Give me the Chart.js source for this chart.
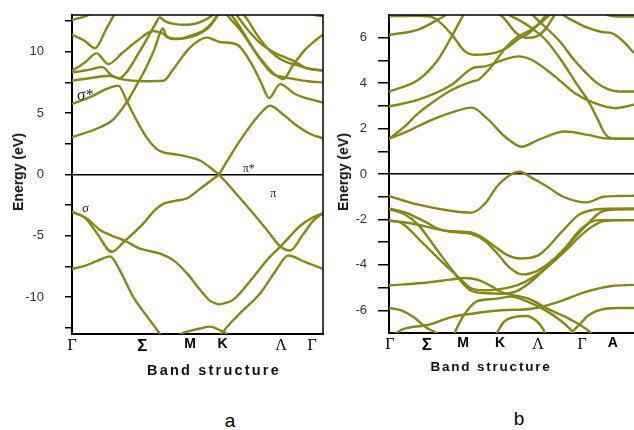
<!DOCTYPE html>
<html>
<head>
<meta charset="utf-8">
<script src="https://cdn.jsdelivr.net/npm/chart.js@4.4.1/dist/chart.umd.min.js"></script>
<style>
  body { margin: 0; background: #fff; width: 634px; height: 430px; overflow: hidden; position: relative;
         font-family: "Liberation Sans", Arial, sans-serif; }
  #chartA { position: absolute; left: 0; top: 0; }
  #chartB { position: absolute; left: 330px; top: 0; }
  .ytitle { position: absolute; font-weight: bold; font-size: 14px; color: #111; white-space: nowrap;
            transform: translate(-50%, -50%) rotate(-90deg); }
  .xtitle { position: absolute; font-weight: bold; color: #111; white-space: nowrap; transform: translate(-50%, -50%); }
  .panel { position: absolute; font-size: 19px; color: #000; transform: translate(-50%, -50%); }
</style>
</head>
<body>
<canvas id="chartA" width="330" height="380"></canvas>
<canvas id="chartB" width="304" height="380"></canvas>
<div class="ytitle" style="left:18px; top:172px;">Energy (eV)</div>
<div class="ytitle" style="left:343px; top:172px;">Energy (eV)</div>
<div class="xtitle" style="left:214px; top:370px; font-size:14.5px; letter-spacing:2.2px;">Band structure</div>
<div class="xtitle" style="left:491px; top:366px; font-size:13.5px; letter-spacing:1.8px;">Band structure</div>
<div class="panel" style="left:230px; top:421px;">a</div>
<div class="panel" style="left:519px; top:419px;">b</div>

<script>
// ---- panel a : k path 0..1, energy in eV ----
const xLabelsA = ['Γ', 'Σ', 'M', 'K', 'Λ', 'Γ'];
const xPosA = [0, 0.28, 0.47, 0.6, 0.833, 0.957];
const yTicksA = [-12.5, -10, -7.5, -5, -2.5, 0, 2.5, 5, 7.5, 10, 12.5];

// valence
const aV1 = [[0,-3.05],[0.05,-3.5],[0.1,-4.8],[0.158,-6.3],[0.211,-5.4],[0.284,-4.0],[0.33,-2.9],[0.364,-2.4],[0.41,-2.15],[0.457,-1.95],[0.51,-1.17],[0.586,0]];
const aV2 = [[0,-3.05],[0.06,-3.6],[0.11,-4.5],[0.16,-5.0],[0.211,-5.4],[0.271,-6.05],[0.351,-6.45],[0.404,-7.0],[0.46,-8.1],[0.51,-9.4],[0.55,-10.3],[0.586,-10.6]];
const aV3 = [[0.586,0],[0.643,-1.3],[0.723,-3.2],[0.78,-4.6],[0.829,-5.85],[0.869,-6.2],[0.92,-4.9],[0.96,-3.8],[1,-3.15]];
const aV4 = [[0.586,-10.6],[0.643,-10.2],[0.723,-8.35],[0.78,-6.9],[0.829,-5.9],[0.87,-5.0],[0.908,-4.2],[0.95,-3.6],[1,-3.15]];
const aV5 = [[0,-7.7],[0.05,-7.45],[0.1,-7.05],[0.152,-6.67],[0.19,-7.8],[0.244,-9.97],[0.3,-11.6],[0.351,-13.0],[0.38,-13.8]];
const aV6 = [[0.58,-13.6],[0.596,-13.0],[0.66,-11.5],[0.749,-9.7],[0.81,-7.9],[0.862,-6.6],[0.93,-7.15],[1,-7.7]];
const aV7 = [[0.4,-13.8],[0.43,-13.05],[0.47,-12.75],[0.51,-12.55],[0.55,-12.4],[0.59,-12.7],[0.616,-13.0],[0.63,-13.6]];
// conduction
const aC1 = [[0,5.75],[0.072,6.3],[0.138,6.97],[0.185,7.24],[0.218,6.0],[0.244,4.93],[0.297,3.03],[0.337,2.09],[0.364,1.81],[0.41,1.65],[0.457,1.46],[0.51,1.14],[0.586,0]];
const aC2 = [[0.586,0],[0.669,2.76],[0.749,4.93],[0.789,5.6],[0.841,4.9],[0.888,4.1],[0.95,3.3],[1,2.95]];
const aC3 = [[0,3.03],[0.112,3.85],[0.165,4.5],[0.218,5.9],[0.258,7.3],[0.3,8.9],[0.33,10.3],[0.35,11.5],[0.362,11.9],[0.378,11.2],[0.42,11.05],[0.47,11.3],[0.52,11.7],[0.56,12.4],[0.59,13.4]];
const aC4 = [[0,12.6],[0.06,12.95],[0.1,13.4]];
const aC5 = [[0,11.4],[0.05,10.9],[0.092,10.3],[0.135,11.8],[0.178,13.4]];
const aC6 = [[0,8.45],[0.05,9.1],[0.098,9.87],[0.145,9.0],[0.2,9.9],[0.26,10.9],[0.324,11.7],[0.36,11.5],[0.4,11.05],[0.45,11.1],[0.5,11.4],[0.545,12.0],[0.575,12.8],[0.595,13.4]];
const aC7 = [[0,8.3],[0.07,8.55],[0.12,8.75],[0.16,8.05],[0.19,7.85],[0.22,8.4],[0.26,9.7],[0.3,11.1],[0.33,12.2],[0.35,12.8],[0.37,12.5],[0.4,12.3],[0.46,12.2],[0.52,12.5],[0.56,13.0],[0.58,13.4]];
const aC8 = [[0,7.65],[0.07,7.85],[0.151,8.05],[0.19,7.8],[0.284,7.6],[0.364,7.64],[0.404,8.6],[0.47,10.35],[0.537,11.16],[0.59,10.8],[0.656,10.6],[0.716,9.0],[0.756,7.37],[0.785,6.23],[0.829,7.37],[0.888,6.56],[1,5.85]];
const aC9 = [[0.64,13.4],[0.663,12.8],[0.7,11.8],[0.756,10.6],[0.8,10.0],[0.849,9.54],[0.882,9.27],[0.928,8.72],[1,8.45]];
const aC10 = [[0.67,13.4],[0.7,12.6],[0.73,11.6],[0.77,10.5],[0.81,9.7],[0.85,9.2],[0.9,8.9],[0.95,8.6],[1,8.5]];
const aC11 = [[0.6,13.4],[0.63,12.7],[0.67,11.8],[0.716,10.4],[0.76,9.2],[0.8,8.3],[0.842,7.78],[0.88,8.9],[0.93,10.2],[0.968,10.9],[1,11.4]];
const aC12 = [[0.62,13.4],[0.66,12.3],[0.7,11.0],[0.75,9.4],[0.8,8.2],[0.84,7.95],[0.88,7.8],[0.94,7.6],[1,7.5]];
const aC13 = [[0.93,13.4],[0.97,13.0],[1,12.9]];

// ---- panel b : k path 0..1 (visible part), energy in eV ----
const xLabelsB = ['Γ', 'Σ', 'M', 'K', 'Λ', 'Γ', 'A'];
const xPosB = [0.004, 0.155, 0.302, 0.453, 0.608, 0.788, 0.914];
const yTicksB = [-6, -5, -4, -3, -2, -1, 0, 1, 2, 3, 4, 5, 6];

const bV1 = [[0,-0.97],[0.12,-1.35],[0.256,-1.63],[0.338,-1.7],[0.392,-1.3],[0.44,-0.56],[0.494,-0.04],[0.535,0.1],[0.58,-0.15],[0.63,-0.45],[0.68,-0.8],[0.711,-1.0],[0.76,-1.18],[0.807,-1.25],[0.875,-1.0],[0.93,-0.97],[1,-0.96]];
const bV2 = [[0,-1.52],[0.065,-1.69],[0.147,-2.1],[0.215,-2.47],[0.338,-2.58],[0.378,-2.77],[0.433,-3.2],[0.48,-3.55],[0.535,-3.72],[0.609,-3.58],[0.705,-2.55],[0.773,-1.81],[0.828,-1.59],[0.9,-1.53],[1,-1.52]];
const bV3 = [[0,-2.05],[0.093,-2.18],[0.188,-2.4],[0.256,-2.55],[0.338,-2.65],[0.392,-2.95],[0.45,-3.6],[0.49,-4.1],[0.542,-4.42],[0.609,-4.24],[0.705,-3.43],[0.786,-2.4],[0.854,-2.03],[0.92,-2.03],[1,-2.03]];
const bV4 = [[0,-1.55],[0.06,-1.75],[0.12,-2.25],[0.2,-3.4],[0.256,-4.2],[0.3,-4.8],[0.338,-5.15],[0.4,-5.25],[0.46,-5.27],[0.528,-5.12],[0.6,-4.55],[0.7,-3.5],[0.8,-2.32],[0.868,-1.66],[0.93,-1.56],[1,-1.55]];
const bV5 = [[0,-2.05],[0.05,-2.15],[0.133,-2.99],[0.2,-3.7],[0.276,-4.46],[0.338,-5.05],[0.392,-5.12],[0.5,-4.97],[0.555,-4.75],[0.637,-4.17],[0.718,-3.4],[0.8,-2.55],[0.868,-2.1],[0.93,-2.04],[1,-2.03]];
const bV6 = [[0,-4.9],[0.136,-4.8],[0.25,-4.65],[0.31,-4.58],[0.36,-4.65],[0.42,-4.95],[0.46,-5.2],[0.569,-5.49],[0.65,-5.95],[0.74,-6.4],[0.82,-6.95],[0.86,-7.4]];
const bV7 = [[0.25,-7.4],[0.268,-7.0],[0.29,-6.5],[0.32,-6.0],[0.36,-5.6],[0.43,-5.5],[0.5,-5.4],[0.56,-5.6],[0.63,-5.95],[0.7,-6.45],[0.75,-6.95],[0.78,-7.4]];
const bV8 = [[0,-5.9],[0.05,-6.0],[0.1,-6.3],[0.15,-6.75],[0.2,-7.05],[0.22,-7.3]];
const bV9 = [[0.72,-7.4],[0.745,-7.0],[0.78,-6.6],[0.813,-6.23],[0.882,-5.93],[0.94,-5.9],[1,-5.9]];
const bV10 = [[0.01,-7.4],[0.025,-7.03],[0.147,-6.67],[0.256,-6.3],[0.338,-6.15],[0.46,-6.0],[0.582,-5.93],[0.69,-5.64],[0.8,-5.2],[0.909,-4.93],[1,-4.88]];
const bV11 = [[0.42,-7.3],[0.44,-7.0],[0.47,-6.5],[0.51,-6.3],[0.56,-6.25],[0.6,-6.45],[0.63,-6.85],[0.645,-7.3]];

const bC1 = [[0,1.55],[0.08,1.9],[0.167,2.35],[0.26,2.72],[0.338,2.92],[0.4,2.45],[0.473,1.65],[0.542,1.2],[0.609,1.5],[0.718,1.87],[0.813,1.72],[0.882,1.57],[1,1.55]];
const bC2 = [[0,1.55],[0.06,2.05],[0.12,2.68],[0.19,3.25],[0.256,3.7],[0.338,4.07],[0.365,4.15],[0.419,4.74],[0.48,5.6],[0.528,6.06],[0.582,6.36],[0.65,6.95],[0.67,7.2]];
const bC3 = [[0,2.97],[0.12,3.27],[0.256,3.93],[0.344,4.67],[0.392,4.74],[0.473,5.05],[0.528,5.18],[0.582,5.03],[0.677,4.3],[0.759,3.56],[0.84,3.12],[0.922,2.9],[1,3.05]];
const bC4 = [[0,3.63],[0.12,4.15],[0.2,5.03],[0.256,6.06],[0.297,6.87],[0.315,7.2]];
const bC5 = [[0,6.12],[0.12,6.36],[0.2,6.8],[0.23,7.0],[0.245,7.2]];
const bC6 = [[0,6.95],[0.1,6.97],[0.17,6.93],[0.2,6.75],[0.256,6.14],[0.31,5.4],[0.351,5.25],[0.433,5.33],[0.48,5.55],[0.53,5.95],[0.57,6.2],[0.61,6.6],[0.64,7.0],[0.65,7.2]];
const bC7 = [[0.46,7.2],[0.49,7.0],[0.54,6.72],[0.59,6.36],[0.64,5.9],[0.71,4.9],[0.77,3.9],[0.81,3.27],[0.85,2.45],[0.88,1.8],[0.91,1.57],[1,1.55]];
const bC8 = [[0.57,7.2],[0.6,6.85],[0.65,6.35],[0.7,5.8],[0.75,5.1],[0.8,4.5],[0.85,4.0],[0.89,3.75],[0.94,3.63],[1,3.63]];
const bC9 = [[0.69,7.2],[0.711,7.0],[0.76,6.7],[0.813,6.43],[0.87,6.25],[0.909,6.2],[0.95,5.9],[1,5.33]];
const bC10 = [[0.86,7.2],[0.9,6.97],[0.95,6.93],[1,6.93]];
const bC11 = [[0.43,7.2],[0.47,6.85],[0.52,6.2],[0.56,6.0],[0.6,6.05],[0.64,6.4],[0.67,6.9],[0.69,7.2]];

const bandsA = [aV1, aV2, aV3, aV4, aV5, aV6, aV7, aC1, aC2, aC3, aC4, aC5, aC6, aC7, aC8, aC9, aC10, aC11, aC12, aC13];
const bandsB = [bV1, bV2, bV3, bV4, bV5, bV6, bV7, bV8, bV9, bV10, bV11, bC1, bC2, bC3, bC4, bC5, bC6, bC7, bC8, bC9, bC10, bC11];

const bandColor = '#878717';

// frame (top / right edges) and the sigma / pi notes
const framePlugin = {
  id: 'frame',
  afterDatasetsDraw(chart, args, opts) {
    const { ctx, chartArea: a, scales } = chart;
    ctx.save();
    ctx.strokeStyle = '#000';
    ctx.lineWidth = 1.5;
    ctx.beginPath();
    ctx.moveTo(a.left, a.top);
    ctx.lineTo(a.right, a.top);
    if (opts.right) {
      ctx.lineTo(a.right, a.bottom);
    }
    ctx.stroke();
    (opts.notes || []).forEach(n => {
      ctx.font = n.font;
      ctx.fillStyle = '#1c1c3a';
      ctx.textAlign = 'left';
      ctx.textBaseline = 'middle';
      ctx.fillText(n.text, scales.x.getPixelForValue(n.k), scales.y.getPixelForValue(n.e));
    });
    ctx.restore();
  }
};

function xFont(label) {
  if (label === 'M' || label === 'K' || label === 'A') return { family: 'Liberation Sans', size: 14, weight: 'bold' };
  if (label === 'Σ') return { family: 'Liberation Sans', size: 17, weight: 'bold' };
  return { family: 'Liberation Serif', size: 16 };
}

function makeChart(id, bands, opt) {
  return new Chart(document.getElementById(id), {
    type: 'line',
    data: {
      datasets: bands.map(b => ({
        data: b.map(p => ({ x: p[0], y: p[1] })),
        borderColor: bandColor,
        borderWidth: 2.4,
        pointRadius: 0,
        fill: false,
        clip: 0,
        cubicInterpolationMode: 'monotone'
      }))
    },
    options: {
      responsive: false,
      animation: false,
      events: [],
      layout: { padding: { top: 15, right: opt.padRight, left: 0, bottom: 0 } },
      plugins: {
        legend: { display: false },
        tooltip: { enabled: false },
        frame: { right: opt.frameRight, notes: opt.notes }
      },
      scales: {
        x: {
          type: 'linear',
          min: 0,
          max: 1,
          afterFit: s => { s.height = opt.xHeight; s.paddingLeft = 0; s.paddingRight = 0; },
          afterBuildTicks: s => { s.ticks = opt.xPos.map(v => ({ value: v })); },
          grid: { display: false, drawTicks: false },
          border: { display: true, color: '#000', width: 2 },
          ticks: {
            autoSkip: false,
            maxRotation: 0,
            padding: 2,
            color: '#000',
            font: ctx => xFont(opt.xLabels[ctx.index]),
            callback: (v, i) => opt.xLabels[i]
          }
        },
        y: {
          min: opt.yMin,
          max: opt.yMax,
          afterFit: s => { s.width = opt.yWidth; s.paddingTop = 0; s.paddingBottom = 0; },
          afterBuildTicks: s => { s.ticks = opt.yTicks.map(v => ({ value: v })); },
          border: { display: true, color: '#000', width: 2 },
          grid: {
            drawOnChartArea: true,
            color: ctx => (ctx.tick && ctx.tick.value === 0 ? '#000' : 'rgba(0,0,0,0)'),
            lineWidth: 1.5,
            tickColor: '#000',
            tickLength: opt.tickLen,
            tickWidth: 1.5
          },
          ticks: {
            padding: opt.tickPad,
            color: '#333',
            font: { family: 'Liberation Sans', size: 13 },
            callback: v => (v % opt.labelStep === 0 ? String(v) : '')
          }
        }
      }
    },
    plugins: [framePlugin]
  });
}

makeChart('chartA', bandsA, {
  xLabels: xLabelsA, xPos: xPosA, yTicks: yTicksA, yMin: -13, yMax: 13, labelStep: 5,
  yWidth: 72, xHeight: 46, padRight: 7, tickLen: 7, tickPad: 21, frameRight: true,
  notes: [
    { text: 'σ*', k: 0.02, e: 6.4, font: '16px "Liberation Serif"' },
    { text: 'σ', k: 0.04, e: -2.75, font: '13px "Liberation Serif"' },
    { text: 'π*', k: 0.68, e: 0.5, font: '12px "Liberation Serif"' },
    { text: 'π', k: 0.79, e: -1.6, font: '12px "Liberation Serif"' }
  ]
});

makeChart('chartB', bandsB, {
  xLabels: xLabelsB, xPos: xPosB, yTicks: yTicksB, yMin: -7, yMax: 7, labelStep: 2,
  yWidth: 59, xHeight: 47, padRight: 0, tickLen: 11, tickPad: 11, frameRight: false,
  notes: []
});
</script>
</body>
</html>
